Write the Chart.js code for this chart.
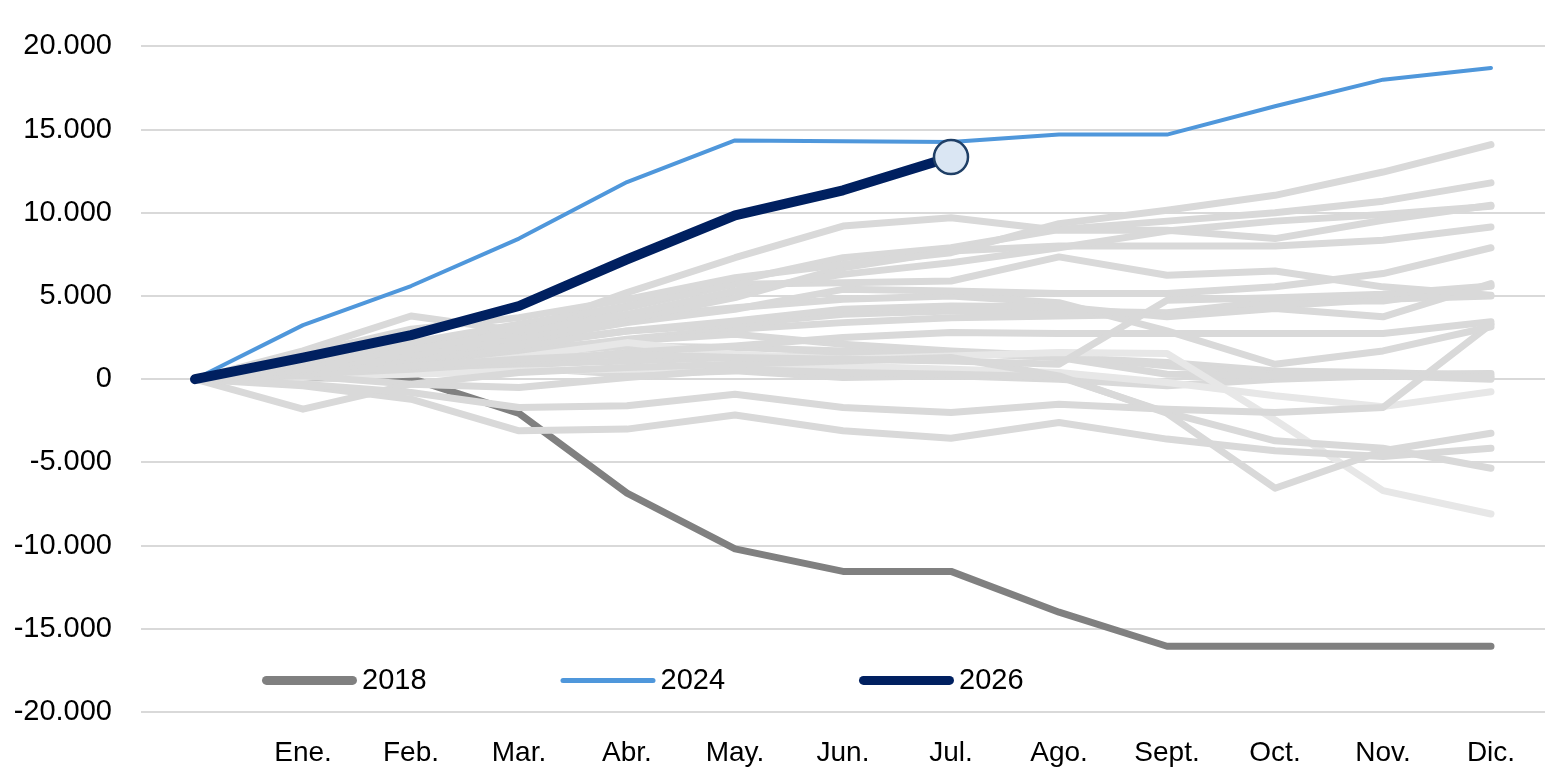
<!DOCTYPE html>
<html>
<head>
<meta charset="utf-8">
<script src="https://cdn.jsdelivr.net/npm/chart.js@4/dist/chart.umd.min.js"></script>
<style>
  html, body { margin: 0; padding: 0; background: #ffffff; }
  #wrap { width: 1567px; height: 783px; }
</style>
</head>
<body>
<div id="wrap"><canvas id="c" width="1567" height="783"></canvas></div>
<script>
// ---- Data ----
const months = ['', 'Ene.', 'Feb.', 'Mar.', 'Abr.', 'May.', 'Jun.', 'Jul.', 'Ago.', 'Sept.', 'Oct.', 'Nov.', 'Dic.'];
const yTicks = [20000, 15000, 10000, 5000, 0, -5000, -10000, -15000, -20000];

const serie2026 = [0, 1300, 2650, 4400, 7200, 9850, 11350, 13350];
const serie2024 = [0, 3250, 5600, 8450, 11850, 14350, 14300, 14250, 14700, 14700, 16400, 18000, 18700];
const serie2018 = [0, 100, 50, -2050, -6850, -10200, -11550, -11550, -14000, -16050, -16050, -16050, -16050];

// other years (grey background lines)
const grey01 = [0, 1500, 3000, 3700, 4800, 6100, 6900, 7600, 9350, 10150, 11050, 12450, 14100];
const grey02 = [0, 1700, 3800, 2900, 5200, 7300, 9200, 9700, 8950, 8950, 8450, 9550, 10450];
const grey03 = [0, 1000, 2200, 3300, 4400, 5900, 7300, 7900, 9000, 9500, 10000, 10700, 11800];
const grey04 = [0, 800, 1800, 2800, 3900, 5300, 6300, 7000, 7900, 8900, 9500, 9900, 10400];
const grey05 = [0, 600, 1500, 2500, 3600, 4900, 6700, 7700, 8000, 8000, 8000, 8350, 9150];
const grey06 = [0, 900, 1900, 3100, 4300, 5700, 5800, 5900, 7350, 6250, 6500, 5550, 5050];
const grey07 = [0, 700, 1400, 2300, 3400, 4200, 5400, 5300, 5150, 5150, 5550, 6350, 7900];
const grey08 = [0, 500, 1200, 2000, 2900, 3500, 4200, 4400, 4350, 3750, 4250, 3750, 5750];
const grey09 = [0, 300, 800, 1200, 1500, 1300, 1200, 1100, 900, 4750, 4900, 5100, 5600];
const grey10 = [0, 300, 600, 1000, 1600, 2000, 2500, 2800, 2750, 2750, 2750, 2750, 3450];
const grey11 = [0, 1100, 2100, 3000, 3700, 4300, 4800, 5000, 4600, 2900, 900, 1700, 3150];
const grey12 = [0, -300, -800, -1700, -1600, -900, -1700, -2000, -1500, -1800, -2000, -1700, 3300];
const grey13 = [0, -400, -1200, -3100, -3000, -2150, -3100, -3550, -2600, -3600, -4300, -4650, -4150];
const grey14 = [0, -1800, -300, 400, 700, 900, 1100, 1300, 200, -2050, -6550, -4300, -3250];
const grey15 = [0, 200, -300, -500, 100, 600, 400, 300, 150, -2000, -3700, -4150, -5350];
const grey16 = [0, 300, 600, 1300, 2200, 1500, 1200, 1400, 1600, 1550, -2450, -6700, -8100];
const grey17 = [0, 100, 300, 500, 600, 700, 800, 600, 400, -200, -1000, -1650, -750];
const grey18 = [0, 400, 700, 900, 1100, 1300, 1500, 1600, 1300, 300, 200, 200, 100];
const grey19 = [0, 600, 1200, 1800, 2300, 2700, 2100, 1700, 1400, 800, 300, 300, 350];
const grey20 = [0, 200, 500, 700, 300, 500, 100, 200, 0, -400, 0, 200, 0];
const grey21 = [0, 700, 1400, 2100, 2900, 3300, 3900, 4100, 4100, 4000, 4700, 4700, 5600];
const grey22 = [0, 500, 1000, 1600, 2400, 3000, 3400, 3700, 3800, 3900, 4400, 4800, 5000];
const grey23 = [0, 300, 900, 1500, 2000, 1900, 1700, 1600, 1300, 1000, 500, 400, 200];

const greyLines = [grey01, grey02, grey03, grey04, grey05, grey06, grey07, grey08, grey09, grey10, grey11,
                   grey12, grey13, grey14, grey15, grey16, grey17, grey18, grey19, grey20, grey21,
                   grey22, grey23];
const lightGrey = [grey16, grey17];

// ---- helpers ----
function fmtNum(v) {
  const s = Math.abs(v).toString().replace(/\B(?=(\d{3})+(?!\d))/g, '.');
  return (v < 0 ? '-' : '') + s;
}

const FONT = 'Liberation Sans, Arial, Helvetica, sans-serif';

// dataset index 0 is drawn on top; the 2018 line sits beneath the grey years
const datasets = [];
datasets.push({
  label: '2026', data: serie2026,
  borderColor: '#002060', backgroundColor: '#002060', borderWidth: 10,
  pointRadius: serie2026.map((v, i) => i === serie2026.length - 1 ? 17 : 0),
  pointHoverRadius: serie2026.map((v, i) => i === serie2026.length - 1 ? 17 : 0),
  pointBackgroundColor: '#DAE6F3', pointBorderColor: '#1F3F66', pointBorderWidth: 2.5,
  legendWidth: 9
});
datasets.push({
  label: '2024', data: serie2024,
  borderColor: '#4F97DB', backgroundColor: '#4F97DB', borderWidth: 4, pointRadius: 0,
  legendWidth: 5
});
greyLines.forEach((arr, i) => {
  const light = lightGrey.includes(arr);
  datasets.push({
    label: 'g' + (i + 1), data: arr, isGrey: true,
    borderColor: light ? '#E7E7E7' : '#D9D9D9', backgroundColor: '#D9D9D9',
    borderWidth: 7, pointRadius: 0
  });
});
datasets.push({
  label: '2018', data: serie2018,
  borderColor: '#808080', backgroundColor: '#808080', borderWidth: 7, pointRadius: 0,
  legendWidth: 9
});

const legendPlugin = {
  id: 'inlineLegend',
  afterDraw(chart) {
    const ctx = chart.ctx;
    const yScale = chart.scales.y;
    const y = yScale.getPixelForValue(-18100);
    const items = ['2018', '2024', '2026'];
    let x = 262;
    const lineLen = 95;
    ctx.save();
    ctx.font = '29px ' + FONT;
    ctx.textBaseline = 'middle';
    ctx.textAlign = 'left';
    items.forEach(lbl => {
      const ds = chart.data.datasets.find(d => d.label === lbl);
      ctx.beginPath();
      ctx.strokeStyle = ds.borderColor;
      ctx.lineWidth = ds.legendWidth;
      ctx.lineCap = 'round';
      ctx.moveTo(x + ds.legendWidth / 2, y);
      ctx.lineTo(x + lineLen - ds.legendWidth / 2, y);
      ctx.stroke();
      ctx.fillStyle = '#000000';
      ctx.fillText(lbl, x + lineLen + 5, y + 1);
      x += 298.5;
    });
    ctx.restore();
  }
};

new Chart(document.getElementById('c'), {
  type: 'line',
  data: { labels: months, datasets: datasets },
  options: {
    responsive: false,
    animation: false,
    devicePixelRatio: 1,
    layout: { padding: { top: 46, right: 22, left: 0, bottom: 0 } },
    elements: {
      line: { tension: 0, borderCapStyle: 'round', borderJoinStyle: 'round', fill: false }
    },
    plugins: {
      legend: { display: false },
      tooltip: { enabled: false },
      title: { display: false }
    },
    scales: {
      x: {
        type: 'category',
        offset: true,
        grid: { display: false, drawTicks: false },
        border: { display: false },
        ticks: {
          color: '#000000', font: { family: FONT, size: 28 }, padding: 24,
          maxRotation: 0, autoSkip: false
        },
        afterFit(scale) { scale.height = 71; }
      },
      y: {
        min: -20000, max: 20000,
        afterBuildTicks(scale) { scale.ticks = yTicks.slice().reverse().map(v => ({ value: v })); },
        grid: { color: '#D9D9D9', lineWidth: 2, drawTicks: false },
        border: { display: false },
        ticks: {
          color: '#000000', font: { family: FONT, size: 29 }, padding: 29,
          callback: (v) => fmtNum(v)
        },
        afterFit(scale) { scale.width = 141; }
      }
    }
  },
  plugins: [legendPlugin]
});
</script>
</body>
</html>
